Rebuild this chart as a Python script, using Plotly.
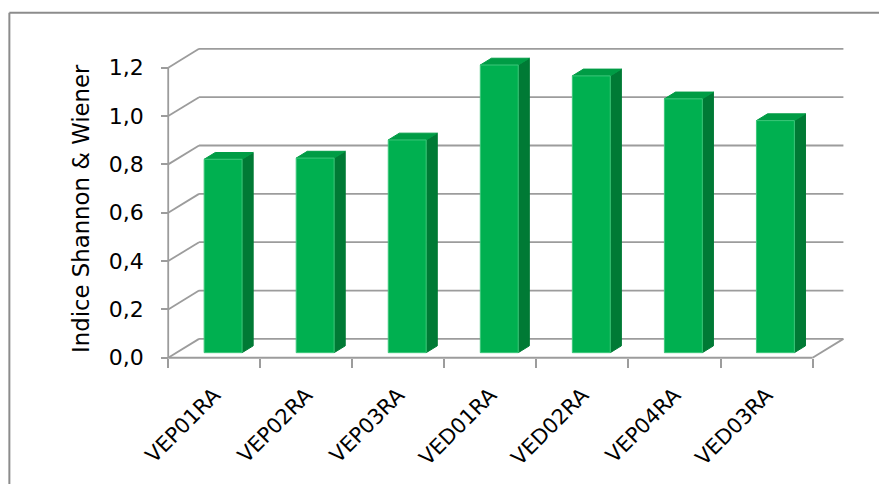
import plotly.graph_objects as go

# ---- data ----
categories = ["VEP01RA", "VEP02RA", "VEP03RA", "VED01RA", "VED02RA", "VEP04RA", "VED03RA"]
values = [0.80, 0.805, 0.88, 1.19, 1.145, 1.05, 0.96]
y_ticks = [0.0, 0.2, 0.4, 0.6, 0.8, 1.0, 1.2]
y_tick_labels = ["0,0", "0,2", "0,4", "0,6", "0,8", "1,0", "1,2"]
y_title = "Indice Shannon & Wiener"

# ---- 3D-look geometry (in data units) ----
n = len(categories)
DX, DY = 0.335, 0.078          # wall depth offset
F0, F1 = 0.27, 0.63            # bar depth span (fraction of wall depth)
GAP, BW = 0.30, 0.412          # bar gap and width within a category

W, H = 887, 484
OFF = 8  # page body margin offset
# pixel anchors: x=0 -> 168px, x=7 -> 813px ; y=0 -> 358px, y=1.2 -> 68px
px_x0, px_per_x = 168.0 - OFF, (813.0 - 168.0) / n
px_y0, px_per_y = 358.0 - OFF, (358.0 - 68.0) / 1.2
xr = [-0.1, n + DX + 0.05]
yr = [-0.03, 1.2 + DY + 0.02]
left_px = px_x0 + xr[0] * px_per_x
right_px = px_x0 + xr[1] * px_per_x
top_px = px_y0 - yr[1] * px_per_y
bot_px = px_y0 - yr[0] * px_per_y

GRID = "#9c9c9c"
FRONT = "#00B050"
SIDE = "#007A35"
TOP = "#009C45"

fig = go.Figure()

def lines(segs, color=GRID, width=1.8):
    xs, ys = [], []
    for (a, b) in segs:
        xs += [a[0], b[0], None]
        ys += [a[1], b[1], None]
    fig.add_trace(go.Scatter(x=xs, y=ys, mode="lines",
                             line=dict(color=color, width=width),
                             hoverinfo="skip", showlegend=False))

# walls
segs = []
for v in y_ticks:
    segs.append(((DX, v + DY), (n + DX, v + DY)))   # back wall gridline
    segs.append(((0, v), (DX, v + DY)))             # side wall diagonal
segs.append(((0, 0), (n, 0)))                        # floor front edge
segs.append(((n, 0), (n + DX, DY)))                  # floor right edge
segs.append(((0, 0), (0, y_ticks[-1])))              # value axis line
lines(segs)

def polys(plist, color, outline=None):
    xs, ys = [], []
    for p in plist:
        for (a, b) in p:
            xs.append(a); ys.append(b)
        xs.append(p[0][0]); ys.append(p[0][1])
        xs.append(None); ys.append(None)
    fig.add_trace(go.Scatter(x=xs, y=ys, mode="lines", fill="toself",
                             fillcolor=color,
                             line=dict(color=outline or color, width=1),
                             hoverinfo="skip", showlegend=False))

ddx, ddy = (F1 - F0) * DX, (F1 - F0) * DY
sides, tops, fronts = [], [], []
for i, v in enumerate(values):
    x0 = i + GAP + F0 * DX
    x1 = x0 + BW
    y0 = F0 * DY
    y1 = v + F0 * DY
    sides.append([(x1, y0), (x1 + ddx, y0 + ddy), (x1 + ddx, y1 + ddy), (x1, y1)])
    tops.append([(x0, y1), (x1, y1), (x1 + ddx, y1 + ddy), (x0 + ddx, y1 + ddy)])
    fronts.append([(x0, y0), (x1, y0), (x1, y1), (x0, y1)])
polys(sides, SIDE)
polys(tops, TOP)
polys(fronts, FRONT, outline="#3cc77a")

plot_w = right_px - left_px
plot_h = bot_px - top_px

fig.update_layout(
    width=W, height=H,
    margin=dict(l=left_px, r=W - right_px, t=top_px, b=H - bot_px, pad=0),
    paper_bgcolor="white", plot_bgcolor="white",
    showlegend=False,
    font=dict(family="DejaVu Sans", color="#000000"),
    xaxis=dict(
        range=xr, showgrid=False, zeroline=False, showline=False,
        tickmode="array", tickvals=[i + 0.5 for i in range(n)], ticktext=categories,
        tickangle=-45, ticks="", tickfont=dict(size=21, family="DejaVu Sans", color="#000"),
        ticklabelstandoff=20,
        minor=dict(tickmode="array", tickvals=list(range(n + 1)), ticks="outside",
                   ticklen=9, tickwidth=1.8, tickcolor=GRID, showgrid=False),
        anchor="free", position=(bot_px - px_y0) / plot_h,
        fixedrange=True,
    ),
    yaxis=dict(
        range=yr, showgrid=False, zeroline=False, showline=False,
        tickmode="array", tickvals=y_ticks, ticktext=y_tick_labels,
        ticks="outside", ticklen=7, tickwidth=1.8, tickcolor=GRID,
        tickfont=dict(size=22, family="DejaVu Sans", color="#000"),
        ticklabelstandoff=13,
        anchor="free", position=(px_x0 - left_px) / plot_w,
        fixedrange=True,
    ),
    annotations=[dict(
        text=y_title, textangle=-90, showarrow=False,
        xref="paper", yref="paper",
        x=(80 - OFF - left_px) / plot_w, y=(bot_px - (209 - OFF)) / plot_h,
        xanchor="center", yanchor="middle",
        font=dict(size=22.8, family="DejaVu Sans", color="#000"),
    )],
    shapes=[
        dict(type="line", xref="paper", yref="paper",
             x0=(9 - OFF - left_px) / plot_w, x1=(W + 5 - left_px) / plot_w,
             y0=(bot_px - (13 - OFF)) / plot_h, y1=(bot_px - (13 - OFF)) / plot_h,
             line=dict(color="#8c8c8c", width=2)),
        dict(type="line", xref="paper", yref="paper",
             x0=(9 - OFF - left_px) / plot_w, x1=(9 - OFF - left_px) / plot_w,
             y0=(bot_px - (13 - OFF)) / plot_h, y1=(bot_px - H - 5) / plot_h,
             line=dict(color="#8c8c8c", width=2)),
    ],
)

fig.write_html("out.html")
